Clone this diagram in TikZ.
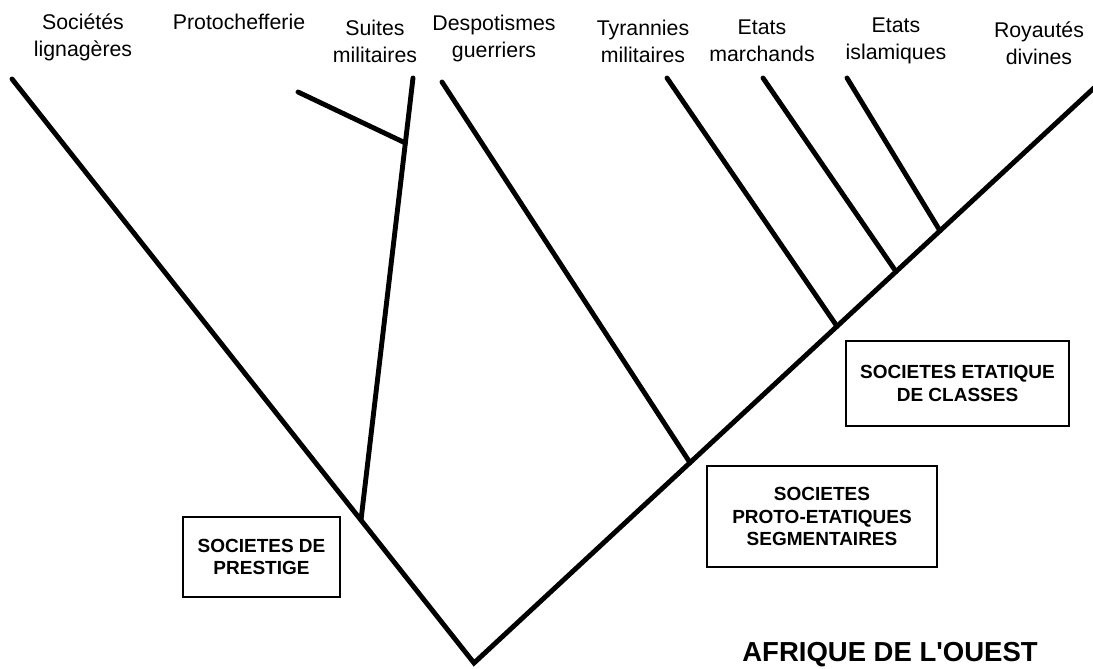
\documentclass[tikz,border=0pt]{standalone}
\usepackage{fontspec}
\setmainfont{Liberation Sans}
\begin{document}
\begin{tikzpicture}[x=1pt,y=-1pt,
  branch/.style={line width=4.9pt,line cap=round,line join=miter},
  lab/.style={font=\fontsize{21.3}{27}\selectfont,align=center,inner sep=0pt},
  box/.style={draw,line width=2pt,font=\bfseries\fontsize{19}{22.5}\selectfont,align=center,inner sep=0pt},
  title/.style={font=\bfseries\fontsize{27.5}{30}\selectfont,inner sep=0pt}]
\useasboundingbox (0,0) rectangle (1093,669);
% tips and junctions
\coordinate (root) at (474,663);
\coordinate (tL) at (12,79);
\coordinate (tR) at (1100,82.4);
\coordinate (tProto) at (298,92);
\coordinate (tSuites) at (413,78);
\coordinate (tDesp) at (442,82);
\coordinate (tTyr) at (667,78);
\coordinate (tMarch) at (763,78);
\coordinate (tIslam) at (847,78);
\coordinate (jS) at (361,520);
\coordinate (jP) at (405.4,143);
\coordinate (jD) at (690,462.7);
\coordinate (jT) at (837,326.3);
\coordinate (jM) at (896,271.6);
\coordinate (jI) at (940,230.8);
% branches
\draw[branch] (tL) -- (root) -- (tR);
\draw[branch] (tSuites) -- (jS);
\draw[branch] (tProto) -- (jP);
\draw[branch] (tDesp) -- (jD);
\draw[branch] (tTyr) -- (jT);
\draw[branch] (tMarch) -- (jM);
\draw[branch] (tIslam) -- (jI);
% labels
\node[lab] (lSoc) at (83,37) {Sociétés\\lignagères};
\node[lab] (lProto) at (239,22) {Protochefferie};
\node[lab] (lSuites) at (375,41) {Suites\\militaires};
\node[lab] (lDesp) at (494,38) {Despotismes\\guerriers};
\node[lab] (lTyr) at (643,41) {Tyrannies\\militaires};
\node[lab] (lMarch) at (762,41) {Etats\\marchands};
\node[lab] (lIslam) at (896,41) {Etats\\islamiques};
\node[lab] (lRoy) at (1039,43) {Royautés\\divines};
% boxes
\node[box,minimum width=157pt,minimum height=80pt] (bPrest) at (261.5,557) {SOCIETES DE\\PRESTIGE};
\node[box,minimum width=230pt,minimum height=101pt] (bProto) at (822,516.5) {SOCIETES\\PROTO-ETATIQUES\\SEGMENTAIRES};
\node[box,minimum width=223pt,minimum height=85pt] (bEtat) at (957.5,383.5) {SOCIETES ETATIQUE\\DE CLASSES};
\node[title] (tit) at (890,655) {AFRIQUE DE L\textquotesingle OUEST};
\end{tikzpicture}
\end{document}
